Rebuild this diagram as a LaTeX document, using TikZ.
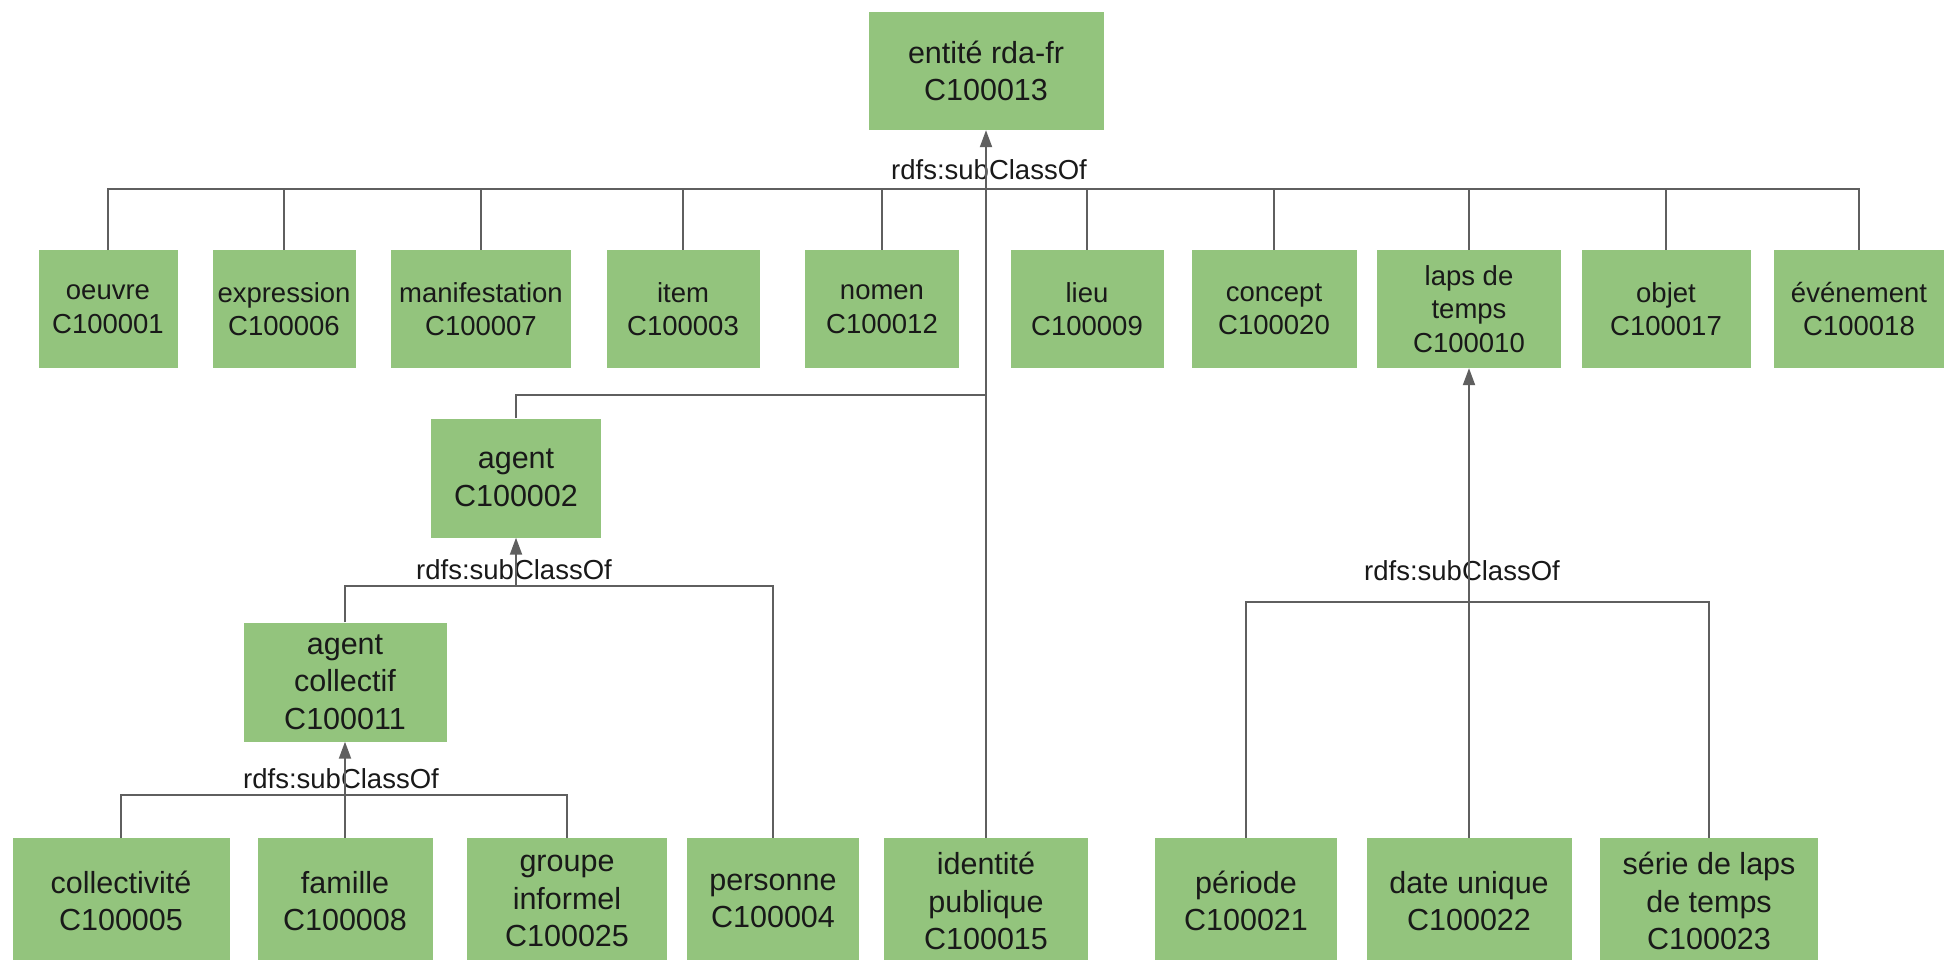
\documentclass[tikz,border=0pt]{standalone}
\usepackage{fontspec}
\setmainfont{Liberation Sans}
\usetikzlibrary{arrows.meta}
\definecolor{rdagreen}{HTML}{93C47D}
\definecolor{linkgray}{HTML}{5F5F5F}
\newcommand{\subclassarrow}{-{Triangle[length=17pt,width=12pt]}}
\newcommand{\boxfont}{\fontsize{30.5}{37.5}\selectfont}
\newcommand{\rowfont}{\fontsize{27.5}{33.5}\selectfont}
\tikzset{
    classbox/.style={fill=rdagreen, align=center, inner sep=0pt, minimum height=119pt, font=\boxfont, text=black!90},
    rowbox/.style={classbox, minimum height=118pt, font=\rowfont},
    link/.style={draw=linkgray, line width=2pt},
    relation/.style={font=\rowfont, text=black!90, inner sep=0pt}
}

\begin{document}
\begin{tikzpicture}[x=1pt, y=-1pt]
        \useasboundingbox[fill=white] (0,0) rectangle (1946,960);

        \node[classbox, minimum width=235pt, minimum height=118pt] (entite) at (986,71) {entité rda-fr\\C100013};

        \node[rowbox, minimum width=139pt] (oeuvre) at (108,309) {oeuvre\\C100001};
        \node[rowbox, minimum width=143pt] (expression) at (284,309) {expression\\C100006};
        \node[rowbox, minimum width=180pt] (manifestation) at (481,309) {manifestation\\C100007};
        \node[rowbox, minimum width=153pt] (item) at (683,309) {item\\C100003};
        \node[rowbox, minimum width=154pt] (nomen) at (882,309) {nomen\\C100012};
        \node[rowbox, minimum width=153pt] (lieu) at (1087,309) {lieu\\C100009};
        \node[rowbox, minimum width=165pt] (concept) at (1274,309) {concept\\C100020};
        \node[rowbox, minimum width=184pt] (laps) at (1469,309) {laps de\\temps\\C100010};
        \node[rowbox, minimum width=169pt] (objet) at (1666,309) {objet\\C100017};
        \node[rowbox, minimum width=170pt] (evenement) at (1859,309) {événement\\C100018};

        \node[classbox, minimum width=170pt] (agent) at (516,478) {agent\\C100002};
        \node[classbox, minimum width=203pt] (collectif) at (345,682) {agent\\collectif\\C100011};

        \node[classbox, minimum width=217pt, minimum height=126pt] (collectivite) at (121,901) {collectivité\\C100005};
        \node[classbox, minimum width=175pt, minimum height=126pt] (famille) at (345,901) {famille\\C100008};
        \node[classbox, minimum width=200pt, minimum height=126pt] (groupe) at (567,901) {groupe\\informel\\C100025};
        \node[classbox, minimum width=172pt, minimum height=126pt] (personne) at (773,901) {personne\\C100004};
        \node[classbox, minimum width=204pt, minimum height=126pt] (identite) at (986,901) {identité\\publique\\C100015};
        \node[classbox, minimum width=182pt, minimum height=126pt] (periode) at (1246,901) {période\\C100021};
        \node[classbox, minimum width=205pt, minimum height=126pt] (dateunique) at (1469,901) {date unique\\C100022};
        \node[classbox, minimum width=218pt, minimum height=126pt] (serie) at (1709,901) {série de laps\\de temps\\C100023};

        \node[relation] (lblroot) at (989,170) {rdfs:subClassOf};
        \node[relation] (lblagent) at (514,570) {rdfs:subClassOf};
        \node[relation] (lblcollectif) at (341,779) {rdfs:subClassOf};
        \node[relation] (lbltemps) at (1462,571) {rdfs:subClassOf};

        \coordinate (mainbus) at (986,189);
        \coordinate (agentjoin) at (986,395);
        \coordinate (agentbus) at (516,586);
        \coordinate (collbus) at (345,795);
        \coordinate (tempsbus) at (1469,602);

        \draw[link, \subclassarrow] (identite.north) -- (entite.south);
        \draw[link] (oeuvre.north) |- (mainbus) -| (evenement.north);
        \draw[link] (expression.north) -- (expression.north |- mainbus);
        \draw[link] (manifestation.north) -- (manifestation.north |- mainbus);
        \draw[link] (item.north) -- (item.north |- mainbus);
        \draw[link] (nomen.north) -- (nomen.north |- mainbus);
        \draw[link] (lieu.north) -- (lieu.north |- mainbus);
        \draw[link] (concept.north) -- (concept.north |- mainbus);
        \draw[link] (laps.north) -- (laps.north |- mainbus);
        \draw[link] (objet.north) -- (objet.north |- mainbus);
        \draw[link] (agent.north) |- (agentjoin);

        \draw[link, \subclassarrow] (agentbus) -- (agent.south);
        \draw[link] (collectif.north) |- (agentbus) -| (personne.north);

        \draw[link, \subclassarrow] (famille.north) -- (collectif.south);
        \draw[link] (collectivite.north) |- (collbus) -| (groupe.north);

        \draw[link, \subclassarrow] (dateunique.north) -- (laps.south);
        \draw[link] (periode.north) |- (tempsbus) -| (serie.north);
    \end{tikzpicture}
\end{document}
